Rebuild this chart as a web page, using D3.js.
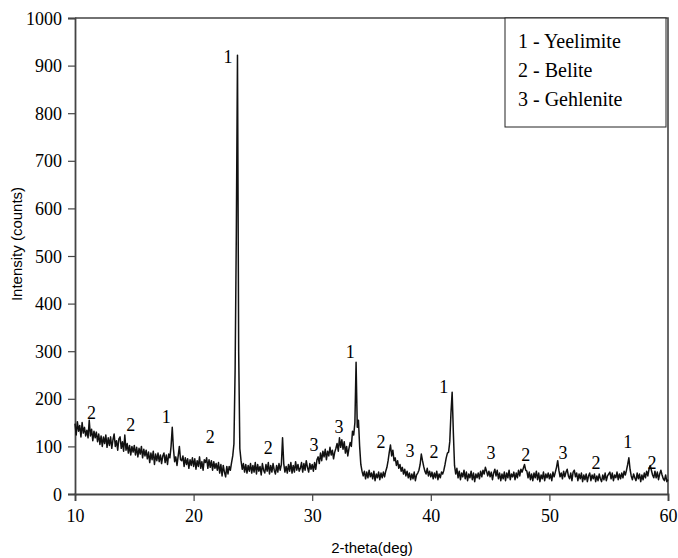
<!DOCTYPE html>
<html>
<head>
<meta charset="utf-8">
<script src="https://cdn.jsdelivr.net/npm/d3@7"></script>
<style>
  body { margin: 0; background: #fff; }
  svg { display: block; }
</style>
</head>
<body>
<svg id="chart" width="678" height="558"></svg>
<script>
// XRD scan: uniform step from 10 to 60 deg 2-theta
const scanStart = 10;
const scanStep = 0.1;

// intensity (counts), one row per degree (x.0 .. x.9)
const intensity = [
  148,124,152,132,144,120,150,128,140,122,   // 10
  134,118,155,122,136,112,132,118,130,110,   // 11
  126,104,122,100,120,106,124,98,118,102,    // 12
  120,96,114,126,100,112,92,116,120,96,      // 13
  110,90,124,92,106,86,102,82,100,88,        // 14
  102,82,98,78,96,84,100,76,94,80,           // 15
  92,74,88,66,86,72,90,62,84,70,             // 16
  86,68,82,64,80,86,66,82,62,84,             // 17
  76,100,140,95,68,78,60,80,100,72,          // 18
  70,80,58,76,62,74,54,72,60,76,             // 19
  58,74,52,70,58,78,54,68,50,72,             // 20
  66,76,54,72,56,70,50,68,54,64,             // 21
  50,66,44,62,38,60,46,36,58,42,             // 22
  58,50,66,80,105,260,540,922,300,95,        // 23
  70,52,64,46,62,44,60,48,64,44,             // 24
  60,46,66,42,62,48,58,40,64,50,             // 25
  44,62,48,66,42,60,46,64,50,42,             // 26
  60,46,64,50,62,118,64,46,58,44,            // 27
  62,48,66,44,60,46,68,50,62,48,             // 28
  54,66,46,64,50,70,56,46,64,52,             // 29
  62,48,66,52,72,78,64,86,70,90,             // 30
  78,94,72,90,80,98,82,92,74,88,             // 31
  96,106,90,118,98,114,94,110,86,100,        // 32
  80,96,108,100,132,124,150,277,140,155,     // 33
  100,62,48,38,48,32,46,34,50,36,            // 34
  44,32,48,28,42,34,46,30,44,34,             // 35
  46,36,48,56,70,88,103,80,92,70,            // 36
  76,60,70,54,62,48,56,42,52,38,             // 37
  48,34,44,30,42,32,46,28,40,44,             // 38
  50,62,84,70,58,48,42,54,38,48,             // 39
  36,46,32,44,34,48,30,42,34,46,             // 40
  42,50,62,76,86,88,110,170,214,130,         // 41
  60,42,54,34,48,30,44,36,50,32,             // 42
  46,28,42,34,48,30,44,26,42,34,             // 43
  44,32,48,36,50,42,56,48,38,48,             // 44
  36,46,30,44,52,38,50,32,44,28,             // 45
  42,32,46,28,44,34,50,30,42,36,             // 46
  46,30,44,34,50,38,52,46,54,62,             // 47
  50,48,34,46,30,42,28,44,34,48,             // 48
  30,44,26,40,32,46,28,42,34,44,             // 49
  32,42,28,46,36,46,56,70,50,36,             // 50
  44,32,48,36,46,52,38,32,44,28,             // 51
  46,50,36,44,28,42,32,44,26,40,             // 52
  30,42,26,38,44,28,40,32,42,26,             // 53
  38,28,42,32,26,40,30,44,28,38,             // 54
  42,46,32,44,28,40,34,46,30,42,             // 55
  32,44,34,48,40,50,62,76,52,38,             // 56
  30,42,34,28,44,32,42,26,40,30,             // 57
  44,34,48,38,52,60,50,40,34,48,             // 58
  34,46,30,42,50,40,32,28,40,26,             // 59
  30                                         // 60
];

// phase markers: 2-theta, height (counts) where the number sits, phase id
const peakTheta  = [11.4, 14.7, 17.7, 21.4, 22.9, 26.3, 30.15, 32.26, 33.2, 35.8, 38.25, 40.27, 41.1, 45.08, 48.0, 51.15, 53.93, 56.6, 58.65];
const peakHeight = [170, 145, 162, 120, 918, 97, 103, 141, 298, 109, 92, 88, 225, 86, 82, 86, 65, 109, 65];
const peakPhase  = ['2','2','1','2','1','2','3','3','1','2','3','2','1','3','2','3','2','1','2'];

const legendItems = ['1 - Yeelimite', '2 - Belite', '3 - Gehlenite'];

const xTicks = [10, 20, 30, 40, 50, 60];
const yTicks = [0, 100, 200, 300, 400, 500, 600, 700, 800, 900, 1000];

const svg = d3.select('#chart');
const plotL = 75, plotR = 668, plotT = 18, plotB = 494;

const x = d3.scaleLinear().domain([10, 60]).range([plotL, plotR]);
const y = d3.scaleLinear().domain([0, 1000]).range([plotB, plotT]);

const serif = '"Liberation Serif", "Times New Roman", serif';
const sans = '"Liberation Sans", Arial, sans-serif';

const points = intensity.map((v, i) => [scanStart + i * scanStep, v]);

// frame (top + right)
svg.append('path')
    .attr('d', `M${plotL},${plotT}H${plotR}V${plotB}`)
    .attr('fill', 'none')
    .attr('stroke', '#444')
    .attr('stroke-width', 1.6);

// y axis
const yAxis = svg.append('g')
    .attr('transform', `translate(${plotL},0)`)
    .call(d3.axisLeft(y).tickValues(yTicks).tickSize(7).tickPadding(6).tickFormat(d3.format('d')));
yAxis.select('.domain').attr('stroke', '#444').attr('stroke-width', 1.8);
yAxis.selectAll('.tick line').attr('stroke', '#444').attr('stroke-width', 1.2);
yAxis.selectAll('.tick text')
    .attr('font-family', serif).attr('font-size', 18).attr('fill', '#000')
    .attr('dy', '0.34em');

// x axis
const xAxis = svg.append('g')
    .attr('transform', `translate(0,${plotB})`)
    .call(d3.axisBottom(x).tickValues(xTicks).tickSize(7).tickPadding(8).tickFormat(d3.format('d')));
xAxis.select('.domain').attr('stroke', '#444').attr('stroke-width', 1.8);
xAxis.selectAll('.tick line').attr('stroke', '#444').attr('stroke-width', 1.2);
xAxis.selectAll('.tick text')
    .attr('font-family', serif).attr('font-size', 18).attr('fill', '#000');

// pattern
svg.append('path')
    .datum(points)
    .attr('d', d3.line().x(d => x(d[0])).y(d => y(d[1])))
    .attr('fill', 'none')
    .attr('stroke', '#111')
    .attr('stroke-width', 1.5)
    .attr('stroke-linejoin', 'round');

// phase numbers
svg.selectAll('text.peak')
    .data(peakTheta)
    .enter()
    .append('text')
    .attr('class', 'peak')
    .attr('x', d => x(d))
    .attr('y', (d, i) => y(peakHeight[i]))
    .attr('dy', '0.35em')
    .attr('text-anchor', 'middle')
    .attr('font-family', serif)
    .attr('font-size', 18)
    .text((d, i) => peakPhase[i]);

// legend box
svg.append('rect')
    .attr('x', 505).attr('y', plotT)
    .attr('width', 161).attr('height', 109)
    .attr('fill', '#fff')
    .attr('stroke', '#222')
    .attr('stroke-width', 1);

svg.selectAll('text.legend')
    .data(legendItems)
    .enter()
    .append('text')
    .attr('class', 'legend')
    .attr('x', 518)
    .attr('y', (d, i) => 48 + i * 29)
    .attr('font-family', serif)
    .attr('font-size', 20)
    .text(d => d);

// axis titles
svg.append('text')
    .attr('x', 372).attr('y', 553)
    .attr('text-anchor', 'middle')
    .attr('font-family', sans)
    .attr('font-size', 15)
    .text('2-theta(deg)');

svg.append('text')
    .attr('transform', 'translate(22,244) rotate(-90)')
    .attr('text-anchor', 'middle')
    .attr('font-family', sans)
    .attr('font-size', 15)
    .text('Intensity (counts)');
</script>
</body>
</html>
